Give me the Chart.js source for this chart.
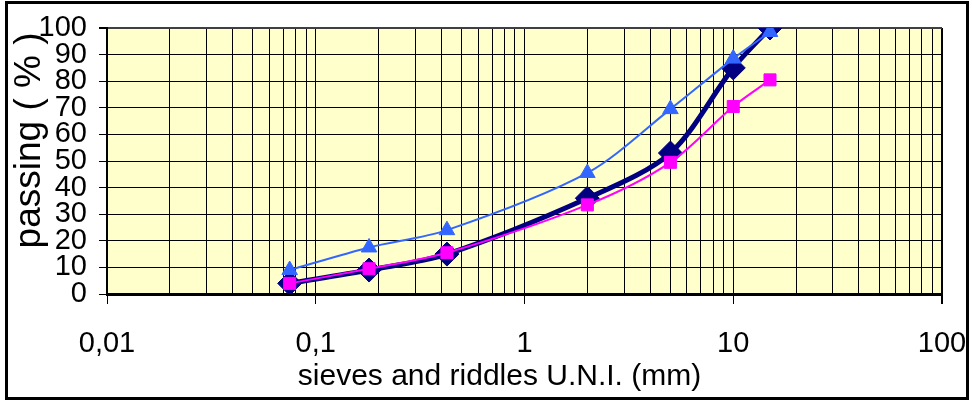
<!DOCTYPE html>
<html>
<head>
<meta charset="utf-8">
<script src="https://cdn.jsdelivr.net/npm/chart.js@4"></script>
<style>
  html, body { margin: 0; padding: 0; background: #fff; }
  #wrap { position: relative; width: 972px; height: 401px; }
  #frame { position: absolute; left: 5px; top: 1px; width: 964px; height: 399px; border: 3px solid #000; box-sizing: border-box; pointer-events: none; }
</style>
</head>
<body>
<div id="wrap">
  <canvas id="grading" width="972" height="401"></canvas>
  <div id="frame"></div>
</div>
<script>
// aperture of each sieve (mm)
const sieves = [0.075, 0.18, 0.425, 2, 5, 10, 15];

// % passing for each curve
const passingNavy = [4, 9, 15, 36, 53, 85, 100];
const passingPink = [4, 9.5, 15.5, 33.5, 49.5, 70.5, 80.5];
const passingBlue = [9, 17.5, 24, 45.5, 69.5, 88.5, 98.5];

// x axis: decades and their labels (italian decimal comma)
const decades = [0.01, 0.1, 1, 10, 100];
const xTickLabels = ["0,01", "0,1", "1", "10", "100"];
const multipliers = [1, 2, 3, 4, 5, 6, 7, 8, 9];

const xGridValues = [];
decades.forEach((d) => {
    multipliers.forEach((m) => {
        const v = d * m;
        if (v <= 100) xGridValues.push(v);
    });
});

const toPoints = (ys) => sieves.map((s, i) => ({ x: s, y: ys[i] }));

// fondo giallo dell'area del grafico
const plotBackground = {
    id: "plotBackground",
    beforeDraw(chart) {
        const { ctx, chartArea: a } = chart;
        ctx.save();
        ctx.fillStyle = "#FFFFCC";
        ctx.fillRect(a.left, a.top, a.right - a.left, a.bottom - a.top);
        ctx.restore();
    },
};

const tickFont = { family: "Liberation Sans", size: 29 };

const ctx = document.getElementById("grading").getContext("2d");
new Chart(ctx, {
    type: "line",
    data: {
        datasets: [
            {
                label: "blue",
                data: toPoints(passingBlue),
                borderColor: "#3366FF",
                backgroundColor: "#3366FF",
                borderWidth: 2,
                pointStyle: "triangle",
                pointRadius: 9,
                pointBorderWidth: 1,
                order: 1,
            },
            {
                label: "pink",
                data: toPoints(passingPink),
                borderColor: "#FF00FF",
                backgroundColor: "#FF00FF",
                borderWidth: 2,
                pointStyle: "rect",
                pointRadius: 8.5,
                pointBorderWidth: 1,
                order: 2,
            },
            {
                label: "navy",
                data: toPoints(passingNavy),
                borderColor: "#000080",
                backgroundColor: "#000080",
                borderWidth: 5,
                pointStyle: "rectRot",
                pointRadius: 12,
                pointBorderWidth: 1,
                order: 3,
            },
        ],
    },
    options: {
        responsive: false,
        animation: false,
        devicePixelRatio: 1,
        layout: { padding: { top: 28, right: 30, left: 0, bottom: 0 } },
        elements: { line: { tension: 0.3, fill: false } },
        plugins: {
            legend: { display: false },
            tooltip: { enabled: false },
        },
        scales: {
            x: {
                type: "logarithmic",
                min: 0.01,
                max: 100,
                afterBuildTicks(scale) {
                    scale.ticks = xGridValues.map((v) => ({ value: v }));
                },
                afterFit(scale) {
                    scale.height = 107;
                    scale.paddingLeft = 0;
                    scale.paddingRight = 0;
                },
                ticks: {
                    autoSkip: false,
                    maxRotation: 0,
                    font: tickFont,
                    color: "#000",
                    padding: 23,
                    callback(value) {
                        const i = decades.indexOf(value);
                        return i >= 0 ? xTickLabels[i] : "";
                    },
                },
                grid: {
                    color: "#000",
                    lineWidth: (c) => (c.tick && c.tick.value === 100 ? 2 : 1),
                    tickLength: 10,
                    tickColor: (c) =>
                        c.tick && decades.includes(c.tick.value) ? "#000" : "rgba(0,0,0,0)",
                },
                border: { color: "#000", width: 3 },
                title: {
                    display: true,
                    text: "sieves and riddles U.N.I. (mm)      ",
                    font: { family: "Liberation Sans", size: 30 },
                    color: "#000",
                    padding: { top: 0, bottom: 6 },
                },
            },
            y: {
                min: 0,
                max: 100,
                afterFit(scale) {
                    scale.width = 107;
                    scale.paddingTop = 0;
                    scale.paddingBottom = 0;
                },
                ticks: {
                    stepSize: 10,
                    autoSkip: false,
                    font: tickFont,
                    color: "#000",
                    padding: 12,
                },
                grid: {
                    color: (c) => (c.tick && c.tick.value === 100 ? "#404040" : "#000"),
                    lineWidth: (c) => (c.tick && c.tick.value === 100 ? 2 : 1),
                    tickLength: 8,
                    tickColor: "#000",
                },
                border: { color: "#000", width: 2 },
                title: {
                    display: true,
                    text: "    passing ( % )",
                    font: { family: "Liberation Sans", size: 37 },
                    color: "#000",
                    padding: { top: 8, bottom: 0 },
                },
            },
        },
    },
    plugins: [plotBackground],
});
</script>
</body>
</html>
